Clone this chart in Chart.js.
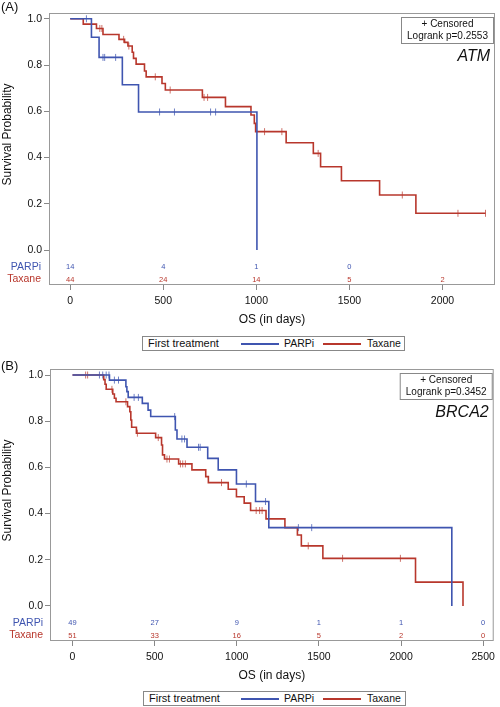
<!DOCTYPE html>
<html>
<head>
<meta charset="utf-8">
<script src="https://cdn.jsdelivr.net/npm/chart.js@4.4.1/dist/chart.umd.min.js"></script>
<style>
  body { margin: 0; background: #fff; font-family: "Liberation Sans", Arial, sans-serif; }
  #page { position: relative; width: 500px; height: 707px; overflow: hidden; }
  .panel { position: absolute; left: 0; width: 500px; }
  .legend { position: absolute; box-sizing: border-box; width: 263px; height: 15px; border: 1px solid #888; color: #111; }
  .legend span { position: absolute; top: 0; line-height: 13px; font-size: 10.5px; white-space: nowrap; }
  .legend .ttl { font-size: 11px; left: 5px; }
  .legend i { position: absolute; top: 6px; width: 38px; height: 0; border-top: 2px solid; }
</style>
</head>
<body>
<div id="page">
  <div class="panel" style="top:0;height:333px"><canvas id="chartA"></canvas></div>
  <div class="legend" style="left:142px;top:336px">
    <span class="ttl">First treatment</span>
    <i style="left:98px;border-color:#3f55b0"></i><span style="left:141px">PARPi</span>
    <i style="left:180px;border-color:#b8372c"></i><span style="left:224px">Taxane</span>
  </div>
  <div class="panel" style="top:353px;height:336px"><canvas id="chartB"></canvas></div>
  <div class="legend" style="left:143px;top:691px">
    <span class="ttl">First treatment</span>
    <i style="left:97px;border-color:#3f55b0"></i><span style="left:140px">PARPi</span>
    <i style="left:179px;border-color:#b8372c"></i><span style="left:223px">Taxane</span>
  </div>
</div>
<script>
const BLUE = '#3f55b0';
const RED = '#b8372c';

// ---- Panel A (ATM) ----
const atmParpTime = [0, 114, 155, 280, 367, 1003];
const atmParpSurv = [1, 0.92, 0.833, 0.715, 0.597, 0];
const atmParpCens = [87, 176, 185, 244, 480, 560, 754, 781];

const atmTaxTime = [0, 70, 141, 176, 262, 292, 310, 333, 340, 354, 399, 408, 493, 511, 710, 834, 971, 989, 996, 1160, 1306, 1345, 1457, 1662, 1857, 2231];
const atmTaxSurv = [1, 0.977, 0.958, 0.932, 0.911, 0.898, 0.882, 0.855, 0.829, 0.804, 0.774, 0.749, 0.72, 0.692, 0.66, 0.62, 0.584, 0.548, 0.512, 0.464, 0.418, 0.36, 0.3, 0.238, 0.159, 0.159];
const atmTaxCens = [159, 170, 287, 315, 457, 537, 719, 738, 1044, 1137, 1332, 1784, 2083, 2231];

const atmRiskTime = [0, 500, 1000, 1500, 2000];
const atmRiskParp = [14, 4, 1, 0];
const atmRiskTax = [44, 24, 14, 5, 2];
const atmXTicks = [0, 500, 1000, 1500, 2000];

// ---- Panel B (BRCA2) ----
const brcaParpTime = [0, 225, 325, 331, 339, 425, 460, 476, 626, 636, 697, 823, 887, 998, 1114, 1195, 2309];
const brcaParpSurv = [1, 0.978, 0.949, 0.928, 0.903, 0.877, 0.848, 0.82, 0.762, 0.723, 0.687, 0.639, 0.589, 0.528, 0.452, 0.339, 0];
const brcaParpCens = [164, 184, 205, 222, 255, 280, 375, 401, 622, 666, 682, 767, 777, 1058, 1175, 1375, 1456];

const brcaTaxTime = [0, 190, 198, 205, 245, 255, 265, 335, 349, 355, 360, 389, 506, 542, 548, 560, 646, 727, 811, 827, 948, 998, 1045, 1084, 1178, 1293, 1369, 1393, 1524, 2088, 2377];
const brcaTaxSurv = [1, 0.98, 0.96, 0.938, 0.918, 0.899, 0.884, 0.863, 0.841, 0.805, 0.774, 0.748, 0.729, 0.697, 0.654, 0.636, 0.615, 0.589, 0.56, 0.534, 0.505, 0.473, 0.445, 0.413, 0.377, 0.339, 0.307, 0.26, 0.206, 0.103, 0];
const brcaTaxCens = [80, 92, 240, 325, 395, 522, 575, 590, 657, 671, 687, 907, 1118, 1139, 1154, 1435, 1644, 1996];

const brcaRiskTime = [0, 500, 1000, 1500, 2000, 2500];
const brcaRiskParp = [49, 27, 9, 1, 1, 0];
const brcaRiskTax = [51, 33, 16, 5, 2, 0];
const brcaXTicks = [0, 500, 1000, 1500, 2000, 2500];

const yTicks = [0, 0.2, 0.4, 0.6, 0.8, 1.0];

// survival level at time t (last step at or before t)
function survAt(times, surv, t) {
    let s = surv[0];
    for (let i = 0; i < times.length; i++) {
        if (times[i] <= t) s = surv[i];
    }
    return s;
}

function stepData(times, surv) {
    return times.map((t, i) => ({ x: t, y: surv[i] }));
}

function censData(times, surv, cens) {
    return cens.map(t => ({ x: t, y: survAt(times, surv, t) }));
}

function kmPlugin(cfg) {
    return {
        id: 'km' + cfg.panel,
        afterDraw(chart) {
            const { ctx, chartArea: a, scales: { x, y } } = chart;
            ctx.save();
            // frame
            ctx.strokeStyle = '#999';
            ctx.lineWidth = 1;
            ctx.strokeRect(a.left + 0.5, a.top + 0.5, a.right - a.left - 1, a.bottom - a.top - 1);

            // at-risk table
            ctx.font = '7.5px "Liberation Sans"';
            ctx.textAlign = 'center';
            ctx.textBaseline = 'middle';
            ctx.fillStyle = BLUE;
            cfg.riskParp.forEach((n, i) => ctx.fillText(String(n), x.getPixelForValue(cfg.riskTime[i]), a.bottom - 18));
            ctx.fillStyle = RED;
            cfg.riskTax.forEach((n, i) => ctx.fillText(String(n), x.getPixelForValue(cfg.riskTime[i]), a.bottom - 5.5));
            ctx.font = '10.5px "Liberation Sans"';
            ctx.textAlign = 'right';
            ctx.fillStyle = BLUE;
            ctx.fillText('PARPi', a.left - cfg.rowGap, a.bottom - 18);
            ctx.fillStyle = RED;
            ctx.fillText('Taxane', a.left - cfg.rowGap, a.bottom - 5.5);

            // inset box
            const bx = a.right - 94, by = a.top + 4;
            ctx.strokeStyle = '#888';
            ctx.strokeRect(bx + 0.5, by + 0.5, 92, 26);
            ctx.fillStyle = '#111';
            ctx.textAlign = 'center';
            ctx.font = '10px "Liberation Sans"';
            ctx.fillText('+ Censored', bx + 46.5, by + 7);
            ctx.fillText('Logrank p=' + cfg.pval, bx + 46.5, by + 19.5);

            // gene name
            ctx.font = 'italic 16px "Liberation Sans"';
            ctx.textAlign = 'right';
            ctx.fillText(cfg.gene, a.right - 5, a.top + 44);

            // panel label
            ctx.font = '13px "Liberation Sans"';
            ctx.textAlign = 'left';
            ctx.fillText('(' + cfg.panel + ')', 1, a.top + cfg.labelDy);

            // axis titles
            ctx.font = '12px "Liberation Sans"';
            ctx.textAlign = 'center';
            ctx.fillText('OS (in days)', (a.left + a.right) / 2, a.bottom + 35);
            ctx.translate(8, (y.getPixelForValue(0) + y.getPixelForValue(1)) / 2);
            ctx.rotate(-Math.PI / 2);
            ctx.fillText('Survival Probability', 0, 0);
            ctx.restore();
        }
    };
}

function makeChart(id, d) {
    const tickFont = { family: '"Liberation Sans"', size: 10.5 };
    new Chart(document.getElementById(id), {
        type: 'line',
        data: {
            datasets: [
                {
                    label: 'PARPi',
                    data: stepData(d.parpTime, d.parpSurv),
                    borderColor: BLUE, borderWidth: 1.6,
                    stepped: true, pointRadius: 0, fill: false
                },
                {
                    label: 'Taxane',
                    data: stepData(d.taxTime, d.taxSurv),
                    borderColor: RED, borderWidth: 1.6,
                    stepped: true, pointRadius: 0, fill: false
                },
                {
                    label: 'PARPi censored',
                    data: censData(d.parpTime, d.parpSurv, d.parpCens),
                    showLine: false, pointStyle: 'line', rotation: 90,
                    pointRadius: 3.5, pointBorderWidth: 1,
                    pointBorderColor: 'rgba(63,85,176,0.75)', borderColor: 'rgba(63,85,176,0.75)'
                },
                {
                    label: 'Taxane censored',
                    data: censData(d.taxTime, d.taxSurv, d.taxCens),
                    showLine: false, pointStyle: 'line', rotation: 90,
                    pointRadius: 3.5, pointBorderWidth: 1,
                    pointBorderColor: 'rgba(184,55,44,0.7)', borderColor: 'rgba(184,55,44,0.7)'
                }
            ]
        },
        options: {
            responsive: true,
            maintainAspectRatio: false,
            animation: false,
            layout: { padding: { top: d.padTop, right: 2, left: 0, bottom: 0 } },
            plugins: { legend: { display: false }, tooltip: { enabled: false } },
            scales: {
                x: {
                    type: 'linear',
                    min: d.xMin, max: d.xMax,
                    afterBuildTicks: axis => { axis.ticks = d.xTicks.map(v => ({ value: v })); },
                    afterFit: axis => { axis.height = 48; },
                    grid: { drawOnChartArea: false, drawTicks: true, tickLength: 5, color: '#888' },
                    border: { display: false },
                    ticks: { font: tickFont, color: '#111', padding: 5, maxRotation: 0, callback: v => String(v) }
                },
                y: {
                    min: d.yMin, max: d.yMax,
                    afterBuildTicks: axis => { axis.ticks = yTicks.map(v => ({ value: v })); },
                    afterFit: axis => { axis.width = d.yWidth; },
                    grid: { drawOnChartArea: false, drawTicks: true, tickLength: 5, color: '#888' },
                    border: { display: false },
                    ticks: { font: tickFont, color: '#111', padding: 2, callback: v => v.toFixed(1) }
                }
            }
        },
        plugins: [kmPlugin(d)]
    });
}

makeChart('chartA', {
    panel: 'A', gene: 'ATM', pval: '0.2553',
    parpTime: atmParpTime, parpSurv: atmParpSurv, parpCens: atmParpCens,
    taxTime: atmTaxTime, taxSurv: atmTaxSurv, taxCens: atmTaxCens,
    riskTime: atmRiskTime, riskParp: atmRiskParp, riskTax: atmRiskTax,
    xTicks: atmXTicks, xMin: -114, xMax: 2282, yMin: -0.151, yMax: 1.025,
    padTop: 13, yWidth: 49, rowGap: 8, labelDy: -6
});

makeChart('chartB', {
    panel: 'B', gene: 'BRCA2', pval: '0.3452',
    parpTime: brcaParpTime, parpSurv: brcaParpSurv, parpCens: brcaParpCens,
    taxTime: brcaTaxTime, taxSurv: brcaTaxSurv, taxCens: brcaTaxCens,
    riskTime: brcaRiskTime, riskParp: brcaRiskParp, riskTax: brcaRiskTax,
    xTicks: brcaXTicks, xMin: -137, xMax: 2564, yMin: -0.152, yMax: 1.026,
    padTop: 16, yWidth: 50, rowGap: 7, labelDy: -3
});
</script>
</body>
</html>
